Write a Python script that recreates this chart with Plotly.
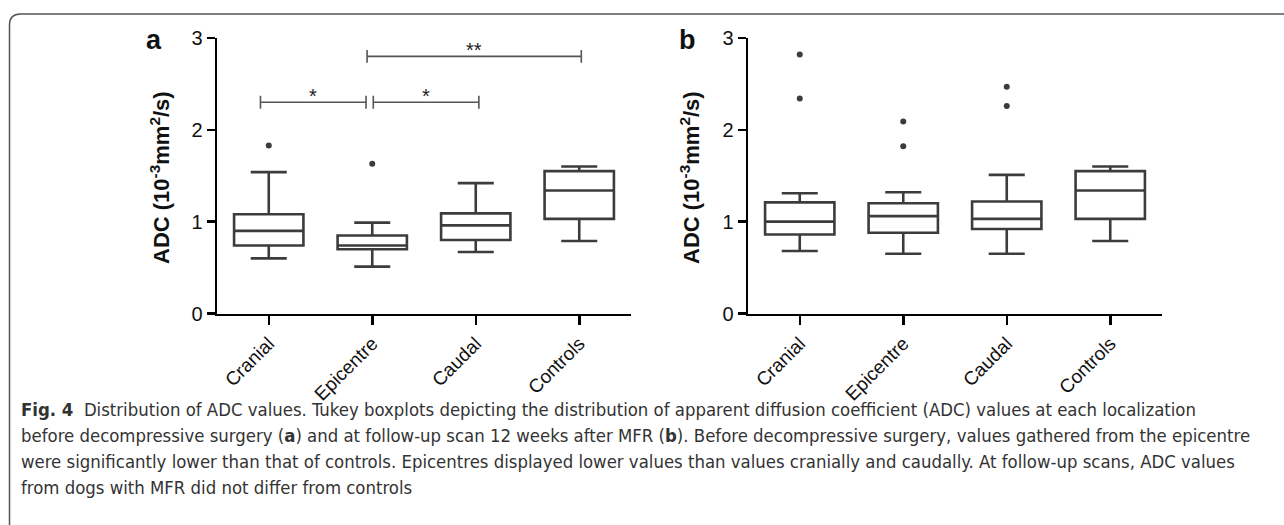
import plotly.graph_objects as go

# ---------------- data ----------------
categories = ["Cranial", "Epicentre", "Caudal", "Controls"]
y_ticks = [0, 1, 2, 3]

# panel a (before decompressive surgery)
a_lower = [0.60, 0.51, 0.67, 0.79]
a_q1 = [0.74, 0.70, 0.80, 1.03]
a_median = [0.90, 0.74, 0.96, 1.34]
a_q3 = [1.08, 0.85, 1.09, 1.55]
a_upper = [1.54, 0.99, 1.42, 1.60]
a_outlier_group = ["Cranial", "Epicentre"]
a_outlier_value = [1.83, 1.63]

# panel b (follow-up 12 weeks after MFR)
b_lower = [0.68, 0.65, 0.65, 0.79]
b_q1 = [0.86, 0.88, 0.92, 1.03]
b_median = [1.00, 1.06, 1.03, 1.34]
b_q3 = [1.21, 1.20, 1.22, 1.55]
b_upper = [1.31, 1.32, 1.51, 1.60]
b_outlier_group = ["Cranial", "Cranial", "Epicentre", "Epicentre", "Caudal", "Caudal"]
b_outlier_value = [2.82, 2.34, 2.09, 1.82, 2.47, 2.26]

# significance comparisons (panel a)
sig_from = ["Cranial", "Epicentre", "Epicentre"]
sig_to = ["Epicentre", "Caudal", "Controls"]
sig_level = [2.30, 2.30, 2.80]
sig_label = ["*", "*", "**"]

caption_lines = [
    "<b>Fig. 4</b>  Distribution of ADC values. Tukey boxplots depicting the distribution of apparent diffusion coefficient (ADC) values at each localization",
    "before decompressive surgery (<b>a</b>) and at follow-up scan 12 weeks after MFR (<b>b</b>). Before decompressive surgery, values gathered from the epicentre",
    "were significantly lower than that of controls. Epicentres displayed lower values than values cranially and caudally. At follow-up scans, ADC values",
    "from dogs with MFR did not differ from controls",
]

# ---------------- styling ----------------
W, H = 1284, 525
BOX_COLOR = "#3c3c3c"
SIG_COLOR = "#555555"
FONT = "Liberation Sans, Arial, sans-serif"
CAP_FONT = "DejaVu Sans Condensed, sans-serif"
sig_shift_start = [-0.08, 0.01, -0.05]
sig_shift_end = [-0.06, 0.03, 0.02]
sig_tick = 0.07

pos = {c: i for i, c in enumerate(categories)}
xpos = [pos[c] for c in categories]

fig = go.Figure()


def add_panel(xa, ya, lower, q1, med, q3, upper, og, ov):
    fig.add_trace(go.Box(
        x=xpos, q1=q1, median=med, q3=q3, lowerfence=lower, upperfence=upper,
        width=0.67, whiskerwidth=0.52, boxpoints=False,
        line=dict(color=BOX_COLOR, width=2.6), fillcolor="rgba(0,0,0,0)",
        xaxis=xa, yaxis=ya, hoverinfo="skip", showlegend=False,
    ))
    fig.add_trace(go.Scatter(
        x=[pos[g] for g in og], y=ov, mode="markers",
        marker=dict(color=BOX_COLOR, size=6), xaxis=xa, yaxis=ya,
        showlegend=False, hoverinfo="skip",
    ))


add_panel("x", "y", a_lower, a_q1, a_median, a_q3, a_upper, a_outlier_group, a_outlier_value)
add_panel("x2", "y2", b_lower, b_q1, b_median, b_q3, b_upper, b_outlier_group, b_outlier_value)

annotations = []
for f, t, lvl, lab, s0, s1 in zip(sig_from, sig_to, sig_level, sig_label, sig_shift_start, sig_shift_end):
    x0 = pos[f] + s0
    x1 = pos[t] + s1
    fig.add_trace(go.Scatter(
        x=[x0, x0, None, x0, x1, None, x1, x1],
        y=[lvl - sig_tick, lvl + sig_tick, None, lvl, lvl, None, lvl - sig_tick, lvl + sig_tick],
        mode="lines", line=dict(color=SIG_COLOR, width=1.6),
        xaxis="x", yaxis="y", showlegend=False, hoverinfo="skip",
    ))
    annotations.append(dict(
        x=(x0 + x1) / 2, y=lvl, xref="x", yref="y", text=lab, showarrow=False,
        yanchor="bottom", yshift=-7, font=dict(family=FONT, size=20, color="#222"),
    ))

dom_a = [217 / W, 631 / W]
dom_b = [748 / W, 1162 / W]
dom_y = [1 - 313.5 / H, 1 - 38 / H]

xaxis_common = dict(
    range=[-0.5, 3.5], tickmode="array", tickvals=xpos, ticktext=categories,
    tickangle=-45, ticks="outside", ticklen=9, tickwidth=2.5, tickcolor="black",
    showline=True, linewidth=2.5, linecolor="black", showgrid=False, zeroline=False,
    tickfont=dict(family=FONT, size=19, color="#111"), fixedrange=True, automargin=False,
)
yaxis_common = dict(
    range=[0, 3], tickmode="array", tickvals=y_ticks, ticks="outside", ticklen=8,
    tickwidth=2.5, tickcolor="black", showline=True, linewidth=2.5, linecolor="black",
    showgrid=False, zeroline=False, tickfont=dict(family=FONT, size=20, color="#111"),
    fixedrange=True, automargin=False,
)

ytitle = "<b>ADC (10<sup>-3</sup>mm<sup>2</sup>/s)</b>"
for xc, letter, lx in [(160, "a", 154), (690, "b", 688)]:
    annotations.append(dict(
        x=xc / W, y=1 - 178 / H, xref="paper", yref="paper", text=ytitle,
        textangle=-90, showarrow=False, xanchor="center", yanchor="middle",
        font=dict(family=FONT, size=22, color="#111"),
    ))
    annotations.append(dict(
        x=lx / W, y=1 - 40 / H, xref="paper", yref="paper", text="<b>%s</b>" % letter,
        showarrow=False, xanchor="center", yanchor="middle",
        font=dict(family=FONT, size=27, color="#111"),
    ))

for i, line in enumerate(caption_lines):
    annotations.append(dict(
        x=19 / W, y=1 - (409 + 26.3 * i) / H, xref="paper", yref="paper", text=line,
        showarrow=False, xanchor="left", yanchor="middle", align="left",
        font=dict(family=CAP_FONT, size=18.4, color="#333"),
    ))

# rounded frame
r_x, r_y = 11 / W, 11 / H
x0, yt, yb = 9.5 / W, 1 - 14 / H, 1 - 535 / H
frame = (f"M {x0 + r_x},{yb} Q {x0},{yb} {x0},{yb + r_y} L {x0},{yt - r_y} "
         f"Q {x0},{yt} {x0 + r_x},{yt} L 1.02,{yt}")

fig.update_layout(
    template="none",
    width=W, height=H, margin=dict(l=0, r=0, t=0, b=0, pad=0),
    paper_bgcolor="white", plot_bgcolor="white", showlegend=False,
    xaxis=dict(domain=dom_a, anchor="y", **xaxis_common),
    yaxis=dict(domain=dom_y, anchor="x", **yaxis_common),
    xaxis2=dict(domain=dom_b, anchor="y2", **xaxis_common),
    yaxis2=dict(domain=dom_y, anchor="x2", **yaxis_common),
    annotations=annotations,
    shapes=[dict(type="path", path=frame, xref="paper", yref="paper",
                 line=dict(color="#555", width=1.5))],
)

fig.write_html(
    "out.html",
    config={"displayModeBar": False, "staticPlot": True},
    post_script="document.body.style.margin='0px';document.body.style.padding='0px';",
)
